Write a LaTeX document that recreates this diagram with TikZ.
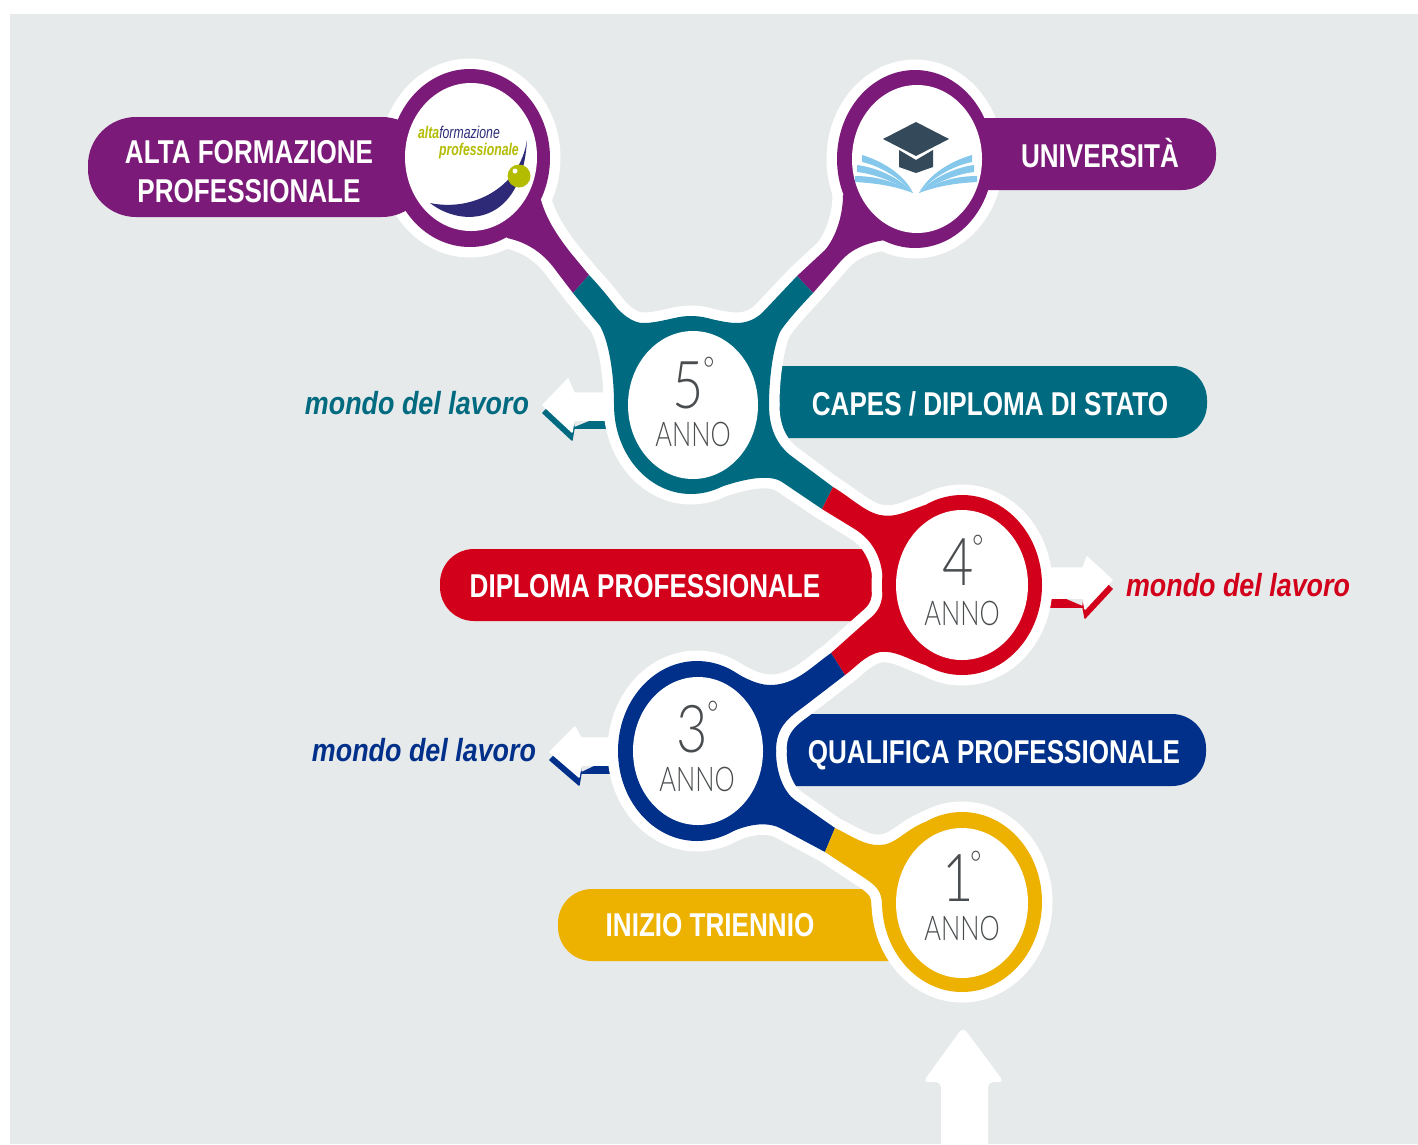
\documentclass[tikz,border=0pt]{standalone}
\usepackage{fontspec}
\newfontfamily\barf[FakeStretch=0.79]{Liberation Sans}
\newfontfamily\workf[FakeStretch=0.84]{Liberation Sans}
\newfontfamily\lightf[FakeStretch=0.82]{Lato Light}
\newfontfamily\annof[FakeStretch=0.75]{Lato Light}
\newfontfamily\logof[FakeStretch=0.72]{Liberation Sans}
\definecolor{bgc}{HTML}{E7EAEA}
\definecolor{cpurple}{HTML}{7B1A78}
\definecolor{cteal}{HTML}{006A80}
\definecolor{cred}{HTML}{D2001A}
\definecolor{cblue}{HTML}{00308A}
\definecolor{cyellow}{HTML}{EDB100}
\definecolor{cink}{HTML}{4A4D4F}
\definecolor{lgreen}{HTML}{B3BC00}
\definecolor{lblue}{HTML}{2E2A78}
\definecolor{slate}{HTML}{34495A}
\definecolor{sky}{HTML}{85C8EC}
\tikzset{
  halo/.style={draw=white,fill=white,line width=21pt,line join=round},
  barshape/.style={rounded corners=34pt},
  bartext/.style={text=white,font=\barf\bfseries\fontsize{33}{39}\selectfont,align=center,inner sep=0pt,anchor=base},
  worktext/.style={font=\workf\bfseries\itshape\fontsize{32}{36}\selectfont,inner sep=0pt},
  numtext/.style={text=cink,font=\lightf\fontsize{66}{70}\selectfont,inner sep=0pt},
  degtext/.style={text=cink,font=\lightf\fontsize{34}{36}\selectfont,inner sep=0pt},
  annotext/.style={text=cink,font=\annof\fontsize{34}{38}\selectfont,inner sep=0pt},
  hole/.style={fill=white}
}
% ring outlines
\def\eAlta{(470,158) ellipse [x radius=80,y radius=89]}
\def\eUni{(915,159) ellipse [x radius=78,y radius=89]}
\def\eCinque{(691,405) ellipse [x radius=77,y radius=89]}
\def\eQuattro{(962,585) ellipse [x radius=80,y radius=90]}
\def\eTre{(697,751) ellipse [x radius=79,y radius=90]}
\def\eUno{(962,902) ellipse [x radius=80,y radius=90]}
% stems
\def\sAlta{(541,200) .. controls (546,218) and (556,234) .. (570,252) -- (589,275) -- (573,293) -- (557,272) .. controls (545,255) and (530,243) .. (507,238) -- (470,160) -- cycle}
\def\sUni{(843,195) .. controls (843,215) and (836,237) .. (825,250) -- (797,276) -- (813,293) -- (840,262) .. controls (850,250) and (865,243) .. (885,240) -- (917,160) -- cycle}
\def\sTealUp{(589,275) .. controls (605,292) and (612,302) .. (617,308) .. controls (625,317) and (635,323) .. (643,323) .. controls (660,323) and (670,317) .. (690,317) .. controls (710,317) and (722,323) .. (737,323) .. controls (748,323) and (757,318) .. (763,312) -- (797,276) -- (813,293) .. controls (795,312) and (784,325) .. (780,332) .. controls (774,345) and (769,375) .. (769,405) -- (614,405) .. controls (614,370) and (608,340) .. (600,326) -- (573,293) -- cycle}
\def\sTealDown{(769,405) .. controls (769,430) and (778,445) .. (790,455) -- (833,487) -- (822,509) -- (782,482) .. controls (770,474) and (745,478) .. (715,489) -- (690,440) -- cycle}
\def\sRedUp{(833,487) .. controls (850,497) and (865,512) .. (880,515) .. controls (895,518) and (905,512) .. (925,505) -- (960,560) -- (883,585) .. controls (883,555) and (870,538) .. (853,528) -- (822,509) -- cycle}
\def\sRedDown{(883,585) .. controls (883,605) and (878,612) .. (868,620) -- (831,653) -- (845,675) .. controls (855,668) and (865,655) .. (880,652) .. controls (895,650) and (910,660) .. (925,665) -- (960,600) -- cycle}
\def\sBlueUp{(831,653) .. controls (810,668) and (795,685) .. (770,685) .. controls (755,685) and (740,675) .. (725,667) -- (700,720) -- (776,751) .. controls (776,730) and (785,720) .. (802,708) -- (845,675) -- cycle}
\def\sBlueDown{(776,751) .. controls (776,775) and (785,793) .. (795,800) -- (835,828) -- (825,852) -- (782,829) .. controls (770,822) and (750,822) .. (725,835) -- (700,790) -- cycle}
\def\sYellow{(835,828) .. controls (850,835) and (865,846) .. (880,845) .. controls (895,845) and (905,830) .. (925,822) -- (960,880) -- (882,905) .. controls (882,890) and (875,885) .. (863,877) -- (825,852) -- cycle}
\begin{document}
\begin{tikzpicture}[x=1pt,y=-1pt]
\useasboundingbox (0,0) rectangle (1418,1144);
\fill[white] (0,0) rectangle (1418,1144);
\fill[bgc] (10,14) rectangle (1418,1144);

% bars separated from the rings by the white halo
\fill[cteal,barshape] (740,366) rectangle (1207,438);
\fill[cred,barshape] (440,549) rectangle (900,621);
\fill[cblue,barshape] (745,714) rectangle (1206,786);
\fill[cyellow,barshape] (558,889) rectangle (920,961);

% exit arrows
\begin{scope}[line join=round,line width=1.5pt]
\filldraw[cteal] (543,413) -- (568,387) -- (574,428) -- (640,428) -- (640,401) -- (574,428) -- (572,440) -- cycle;
\filldraw[white] (543,405) -- (568,379) -- (574,393) -- (640,393) -- (640,420) -- (574,420) -- (572,432) -- cycle;
\filldraw[cblue] (550,760) -- (575,735) -- (581,773) -- (640,773) -- (640,745) -- (581,773) -- (579,785) -- cycle;
\filldraw[white] (550,752) -- (575,727) -- (581,738) -- (640,738) -- (640,765) -- (581,765) -- (579,777) -- cycle;
\filldraw[cred] (1112,589) -- (1087,566) -- (1083,607) -- (1020,607) -- (1020,580) -- (1083,607) -- (1085,618) -- cycle;
\filldraw[white] (1112,580) -- (1087,557) -- (1083,568) -- (1020,568) -- (1020,598) -- (1083,598) -- (1085,609) -- cycle;
\end{scope}

% white halo round the whole chain
\draw[halo] \eAlta; \draw[halo] \eUni; \draw[halo] \eCinque; \draw[halo] \eQuattro; \draw[halo] \eTre; \draw[halo] \eUno;
\draw[halo] \sAlta; \draw[halo] \sUni; \draw[halo] \sTealUp; \draw[halo] \sTealDown; \draw[halo] \sRedUp; \draw[halo] \sRedDown; \draw[halo] \sBlueUp; \draw[halo] \sBlueDown; \draw[halo] \sYellow;

% coloured chain
\fill[cpurple] \eAlta; \fill[cpurple] \eUni; \fill[cpurple] \sAlta; \fill[cpurple] \sUni;
\fill[cpurple,rounded corners=48pt] (88,117) rectangle (430,217);
\fill[cpurple,barshape] (950,118) rectangle (1216,190);
\fill[cteal] \eCinque; \fill[cteal] \sTealUp; \fill[cteal] \sTealDown;
\fill[cred] \eQuattro; \fill[cred] \sRedUp; \fill[cred] \sRedDown;
\fill[cblue] \eTre; \fill[cblue] \sBlueUp; \fill[cblue] \sBlueDown;
\fill[cyellow] \eUno; \fill[cyellow] \sYellow;

% inner discs
\fill[hole] (471,157) ellipse [x radius=66,y radius=74];
\fill[hole] (917,159) ellipse [x radius=65,y radius=74];
\fill[hole] (693,405) ellipse [x radius=65,y radius=74];
\fill[hole] (962,585) ellipse [x radius=66,y radius=75];
\fill[hole] (698,751) ellipse [x radius=65,y radius=74];
\fill[hole] (962,903) ellipse [x radius=66,y radius=75];

% bottom arrow
\fill[white,rounded corners=5pt] (963,1027) -- (1004,1082) -- (988,1082) -- (988,1160) -- (941,1160) -- (941,1082) -- (923,1082) -- cycle;

% logo
\fill[lblue] (430,203) .. controls (462,228) and (522,226) .. (527,140) .. controls (520,188) and (472,212) .. (430,203) -- cycle;
\fill[lgreen] (519,176) circle (11.5);
\fill[white] (515,171) circle (2.5);
\node[inner sep=0pt,font=\logof\itshape\fontsize{17}{20}\selectfont] (logoa) at (459,132) {\textcolor{lgreen}{\bfseries alta}\textcolor{lblue}{formazione}};
\node[inner sep=0pt,text=lgreen,font=\logof\bfseries\itshape\fontsize{17}{20}\selectfont] (logob) at (479,151) {professionale};

% graduation cap and book
\fill[slate] (899,150) -- (916,160) -- (933,150) -- (933,167) -- (916,173) -- (899,167) -- cycle;
\fill[slate] (916,122) -- (949,139) -- (916,156) -- (883,139) -- cycle;
\begin{scope}[sky]
\fill (913,193) .. controls (900,178) and (880,166) .. (862,162) -- (862,155) .. controls (885,162) and (905,176) .. (913,193) -- cycle;
\fill (913,193) .. controls (895,182) and (875,174) .. (857,172) -- (857,165) .. controls (880,168) and (902,180) .. (913,193) -- cycle;
\fill (913,193) .. controls (895,186) and (875,183) .. (855,182) -- (855,176) .. controls (880,176) and (900,184) .. (913,193) -- cycle;
\fill (919,193) .. controls (932,178) and (952,166) .. (972,162) -- (972,155) .. controls (948,162) and (928,176) .. (919,193) -- cycle;
\fill (919,193) .. controls (937,182) and (957,174) .. (974,172) -- (974,165) .. controls (952,168) and (930,180) .. (919,193) -- cycle;
\fill (919,193) .. controls (937,186) and (957,183) .. (977,182) -- (977,176) .. controls (952,176) and (932,184) .. (919,193) -- cycle;
\end{scope}

% bar labels
\node[bartext] (alta1) at (249,163) {ALTA FORMAZIONE};
\node[bartext] (alta2) at (249,202) {PROFESSIONALE};
\node[bartext] (uni) at (1100,167) {UNIVERSITÀ};
\node[bartext] (capes) at (990,415) {CAPES / DIPLOMA DI STATO};
\node[bartext] (dipl) at (645,597) {DIPLOMA PROFESSIONALE};
\node[bartext] (qual) at (994,763) {QUALIFICA PROFESSIONALE};
\node[bartext] (iniz) at (710,936) {INIZIO TRIENNIO};

% work labels
\node[worktext,text=cteal] (w5) at (417,403) {mondo del lavoro};
\node[worktext,text=cred] (w4) at (1238,585) {mondo del lavoro};
\node[worktext,text=cblue] (w3) at (424,750) {mondo del lavoro};

% year labels
\node[numtext] (n5) at (688,385) {5}; \node[degtext] (d5) at (709,369) {°}; \node[annotext] (a5) at (693,434) {ANNO};
\node[numtext] (n4) at (958,562) {4}; \node[degtext] (d4) at (978,547) {°}; \node[annotext] (a4) at (962,613) {ANNO};
\node[numtext] (n3) at (692,729) {3}; \node[degtext] (d3) at (713,713) {°}; \node[annotext] (a3) at (697,779) {ANNO};
\node[numtext] (n1) at (958,878) {1}; \node[degtext] (d1) at (976,863) {°}; \node[annotext] (a1) at (962,928) {ANNO};
\end{tikzpicture}
\end{document}
